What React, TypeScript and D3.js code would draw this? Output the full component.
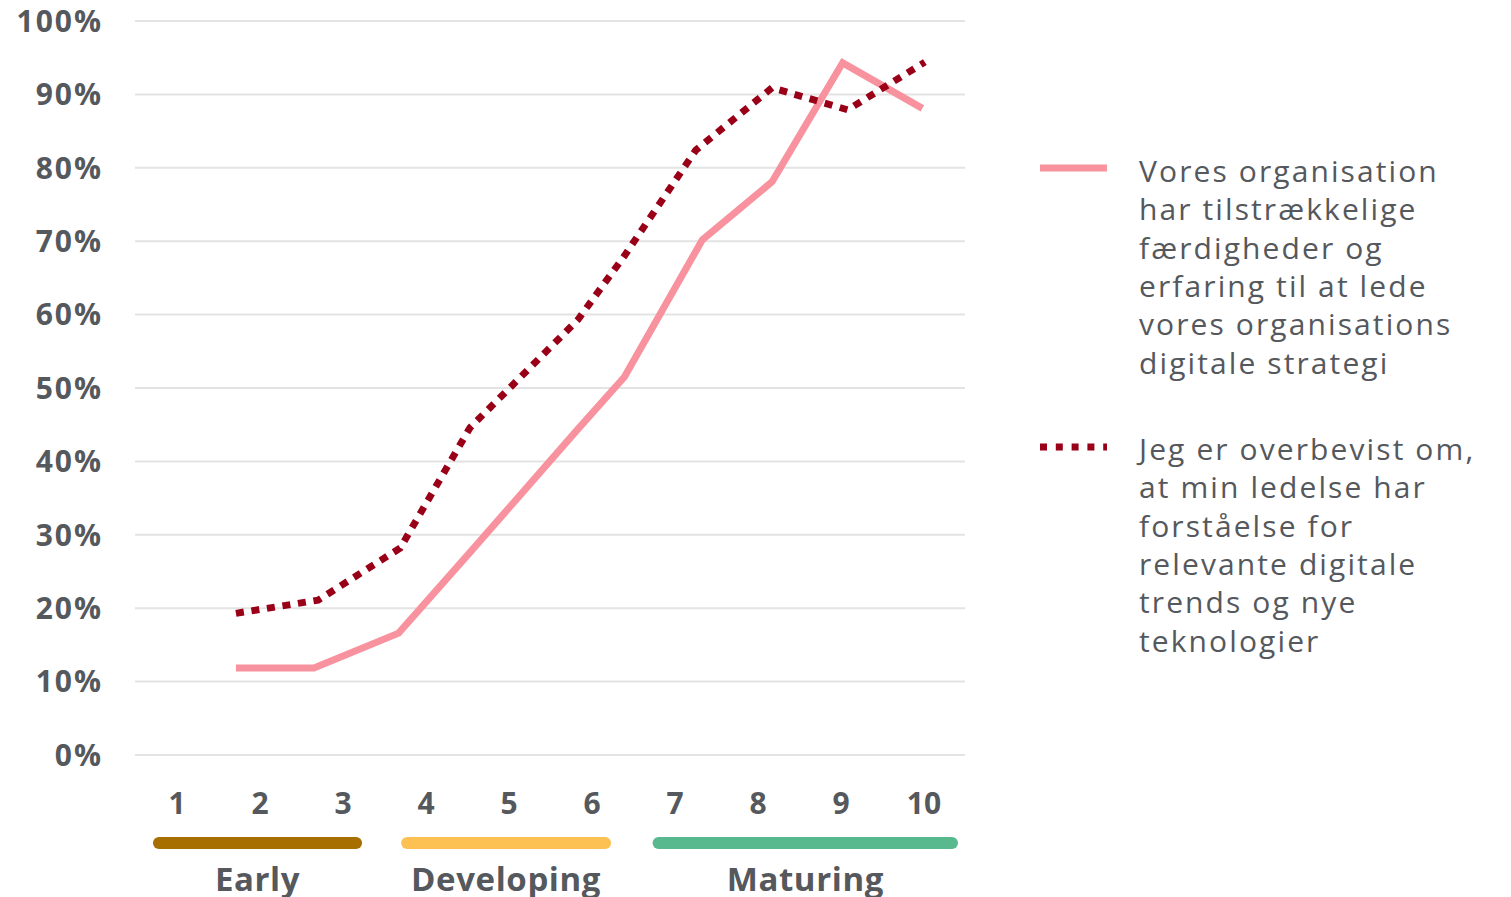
import React from "react";
import * as d3 from "d3";

const levels = [1, 2, 3, 4, 5, 6, 7, 8, 9, 10];
const yTicks = [0, 0.1, 0.2, 0.3, 0.4, 0.5, 0.6, 0.7, 0.8, 0.9, 1.0];

// x positions (average maturity level) and shares for each series
const solidX = [1.71, 2.65, 3.67, 4.53, 5.83, 6.39, 7.33, 8.17, 9.02, 9.98];
const solidY = [0.1185, 0.1185, 0.166, 0.276, 0.444, 0.515, 0.702, 0.781, 0.943, 0.881];
const dashedX = [1.71, 2.70, 3.69, 4.53, 5.83, 6.39, 7.25, 8.17, 9.08, 10.01];
const dashedY = [0.193, 0.211, 0.282, 0.446, 0.593, 0.68, 0.824, 0.909, 0.879, 0.944];

const groupNames = ["Early", "Developing", "Maturing"];
const groupFrom = [0.71, 3.7, 6.73];
const groupTo = [3.23, 6.23, 10.41];
const groupColors = ["#A66F00", "#FCC152", "#58B88E"];

const legend1 = [
  "Vores organisation",
  "har tilstrækkelige",
  "færdigheder og",
  "erfaring til at lede",
  "vores organisations",
  "digitale strategi",
];
const legend2 = [
  "Jeg er overbevist om,",
  "at min ledelse har",
  "forståelse for",
  "relevante digitale",
  "trends og nye",
  "teknologier",
];

const SOLID = "#F8929E";
const DARK = "#990018";
const TEXT = "#55585C";
const FONT = "'Open Sans', 'Noto Sans', sans-serif";

export default function App() {
  const x = d3.scaleLinear().domain([1, 10]).range([177, 924]);
  const y = d3.scaleLinear().domain([0, 1]).range([755, 21]);
  const line = d3
    .line<[number, number]>()
    .x((d) => x(d[0]))
    .y((d) => y(d[1]));
  const solidPts = solidX.map((v, i) => [v, solidY[i]] as [number, number]);
  const dashedPts = dashedX.map((v, i) => [v, dashedY[i]] as [number, number]);
  const yLs = 2;

  return (
    <svg
      width={1511}
      height={897}
      style={{ position: "absolute", left: 0, top: 0, background: "#fff" }}
      fontFamily={FONT}
    >
      {yTicks.map((t) => (
        <g key={t}>
          <line x1={135} x2={965} y1={y(t)} y2={y(t)} stroke="#E3E3E3" strokeWidth={2} />
          <text
            x={101 + yLs}
            y={y(t)}
            dy="0.36em"
            textAnchor="end"
            fontSize={30}
            fontWeight={700}
            letterSpacing={yLs}
            fill={TEXT}
          >
            {d3.format(".0%")(t)}
          </text>
        </g>
      ))}
      {levels.map((l) => (
        <text
          key={l}
          x={x(l)}
          y={803}
          dy="0.36em"
          textAnchor="middle"
          fontSize={30}
          fontWeight={700}
          fill={TEXT}
        >
          {l}
        </text>
      ))}
      {groupNames.map((g, i) => (
        <g key={g}>
          <line
            x1={x(groupFrom[i]) + 6}
            x2={x(groupTo[i]) - 6}
            y1={843}
            y2={843}
            stroke={groupColors[i]}
            strokeWidth={12}
            strokeLinecap="round"
          />
          <text
            x={(x(groupFrom[i]) + x(groupTo[i])) / 2}
            y={879}
            dy="0.36em"
            textAnchor="middle"
            fontSize={33}
            fontWeight={700}
            letterSpacing={0.6}
            fill={TEXT}
          >
            {g}
          </text>
        </g>
      ))}
      <path d={line(solidPts) || ""} fill="none" stroke={SOLID} strokeWidth={7} strokeLinejoin="miter" />
      <path
        d={line(dashedPts) || ""}
        fill="none"
        stroke={DARK}
        strokeWidth={7}
        strokeDasharray="8 7.7"
      />
      {/* legend */}
      <line x1={1040} x2={1107} y1={168} y2={168} stroke={SOLID} strokeWidth={7} />
      {legend1.map((t, i) => (
        <text key={t} x={1139} y={182 + i * 38.3} fontSize={30} letterSpacing={2.1} fill={TEXT}>
          {t}
        </text>
      ))}
      <line
        x1={1040}
        x2={1107}
        y1={447}
        y2={447}
        stroke={DARK}
        strokeWidth={7}
        strokeDasharray="7 8.8"
      />
      {legend2.map((t, i) => (
        <text key={t} x={1139} y={460 + i * 38.3} fontSize={30} letterSpacing={2.1} fill={TEXT}>
          {t}
        </text>
      ))}
    </svg>
  );
}
